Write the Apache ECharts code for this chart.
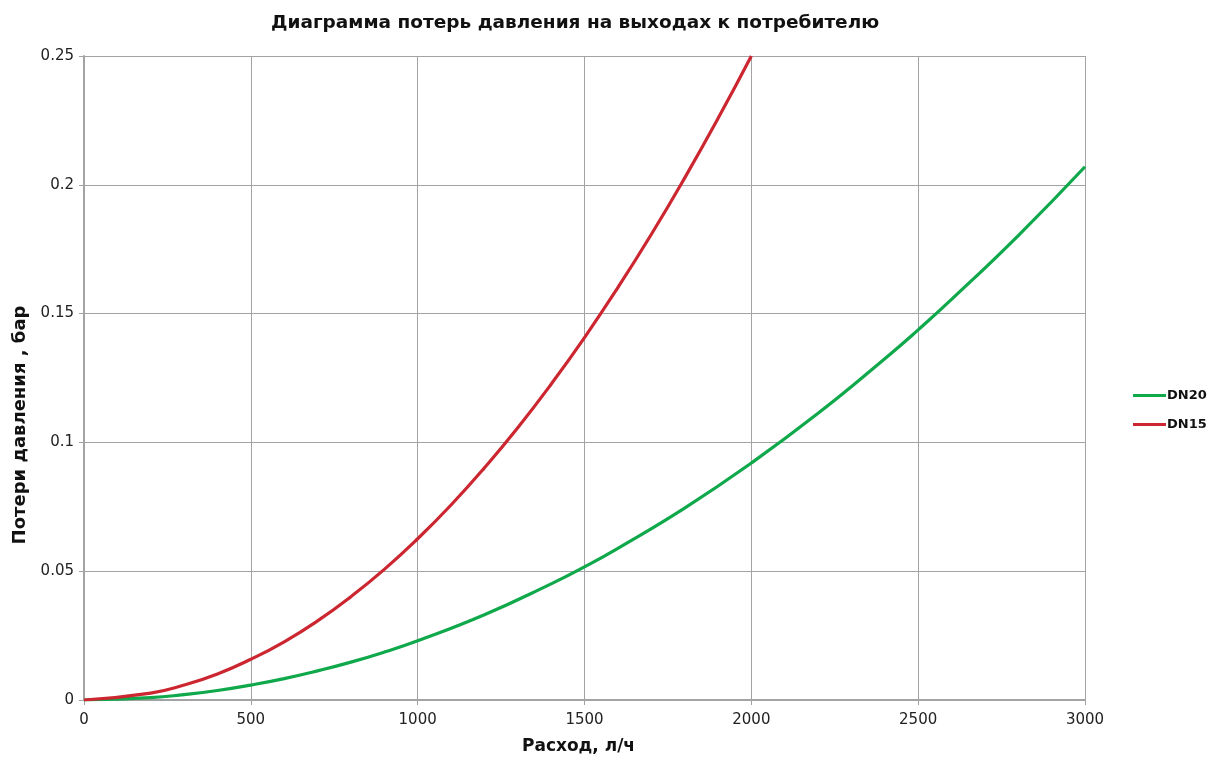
<!DOCTYPE html>
<html>
<head>
<meta charset="utf-8">
<script src="https://cdn.jsdelivr.net/npm/echarts@6/dist/echarts.min.js"></script>
<style>
  html, body { margin: 0; padding: 0; background: #fff; }
  #chart { width: 1212px; height: 760px; }
</style>
</head>
<body>
<div id="chart"></div>
<script>
// flow, l/h and pressure loss, bar
var dn15Flow = [0, 200, 300, 400, 500, 600, 700, 800, 900, 1000, 1100, 1200, 1300, 1400, 1500, 1600, 1700, 1800, 1900, 2000];
var dn15Loss = [0, 0.0027, 0.0058, 0.0101, 0.0158, 0.0226, 0.0307, 0.0401, 0.0507, 0.0626, 0.0757, 0.0901, 0.1057, 0.1226, 0.1407, 0.1601, 0.1807, 0.2026, 0.2257, 0.25];

var dn20Flow = [0, 200, 300, 400, 500, 600, 700, 800, 900, 1000, 1200, 1400, 1500, 1600, 1800, 2000, 2200, 2400, 2500, 2600, 2800, 3000];
var dn20Loss = [0, 0.0009, 0.0021, 0.0037, 0.0058, 0.0083, 0.0113, 0.0147, 0.0186, 0.023, 0.0331, 0.0451, 0.0517, 0.0589, 0.0745, 0.092, 0.1113, 0.1325, 0.1437, 0.1555, 0.1803, 0.207];

function pairs(xs, ys) {
	return xs.map(function (x, i) { return [x, ys[i]]; });
}

var chart = echarts.init(document.getElementById('chart'));

var gridColor = '#a3a3a3';
var font = '"DejaVu Sans", "Liberation Sans", sans-serif';

var option = {
	animation: false,
	title: {
		text: 'Диаграмма потерь давления на выходах к потребителю',
		left: 271,
		top: 9,
		padding: [5, 0, 5, 0],
		textStyle: {
			fontFamily: font,
			fontWeight: 'bold',
			fontSize: 18.5,
			color: '#111'
		}
	},
	grid: {
		left: 84,
		right: 127,
		top: 56,
		bottom: 60,
		outerBoundsMode: 'none'
	},
	legend: {
		orient: 'vertical',
		left: 1128,
		top: 384,
		itemWidth: 33,
		itemHeight: 3,
		itemGap: 16,
		icon: 'rect',
		textStyle: {
			fontFamily: font,
			fontWeight: 'bold',
			fontSize: 13,
			color: '#111',
			padding: [0, 0, 0, -4]
		},
		data: ['DN20', 'DN15']
	},
	xAxis: {
		type: 'value',
		min: 0,
		max: 3000,
		interval: 500,
		name: 'Расход, л/ч',
		nameLocation: 'middle',
		nameGap: 38,
		nameTextStyle: {
			fontFamily: font,
			fontWeight: 'bold',
			fontSize: 17,
			color: '#111',
			padding: [0, 12, 0, 0]
		},
		axisLine: { lineStyle: { color: gridColor, width: 2 } },
		axisTick: { show: true, length: 5, lineStyle: { color: gridColor } },
		axisLabel: {
			fontFamily: font, fontSize: 15, color: '#222', margin: 13,
			formatter: function (v) { return String(v); }
		},
		splitLine: { lineStyle: { color: gridColor, width: 1 } }
	},
	yAxis: {
		type: 'value',
		min: 0,
		max: 0.25,
		interval: 0.05,
		name: 'Потери давления , бар',
		nameLocation: 'middle',
		nameGap: 54,
		nameTextStyle: {
			fontFamily: font,
			fontWeight: 'bold',
			fontSize: 18,
			color: '#111',
			padding: [0, 94, 0, 0]
		},
		axisLine: { show: true, lineStyle: { color: gridColor, width: 2 } },
		axisTick: { show: true, length: 5, lineStyle: { color: gridColor } },
		axisLabel: {
			fontFamily: font, fontSize: 15, color: '#222', margin: 10,
			formatter: function (v) { return String(v); }
		},
		splitLine: { lineStyle: { color: gridColor, width: 1 } }
	},
	series: [{
		name: 'DN20',
		type: 'line',
		smooth: true,
		symbol: 'none',
		data: pairs(dn20Flow, dn20Loss),
		lineStyle: { color: '#0fa84b', width: 3.2 },
		itemStyle: { color: '#0fa84b' },
		z: 2
	}, {
		name: 'DN15',
		type: 'line',
		smooth: true,
		symbol: 'none',
		data: pairs(dn15Flow, dn15Loss),
		lineStyle: { color: '#cc2631', width: 3.2 },
		itemStyle: { color: '#cc2631' },
		z: 3
	}]
};

chart.setOption(option);
</script>
</body>
</html>
